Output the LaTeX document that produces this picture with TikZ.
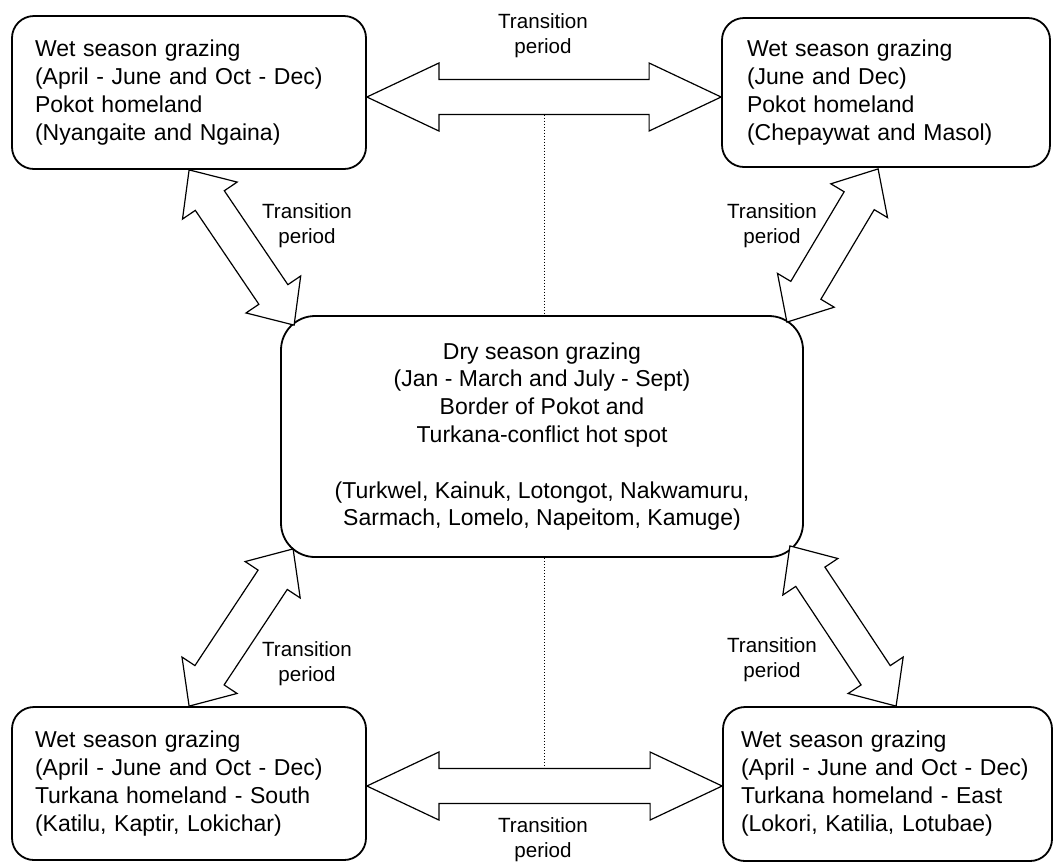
\documentclass[tikz,border=0pt]{standalone}
\usepackage{fontspec}
\setmainfont{Liberation Sans}
\usetikzlibrary{calc}
\tikzset{
  season/.style={
    draw,
    line width=0.9pt,
    rounded corners=11pt,
    align=left,
    inner xsep=11.5pt,
    inner ysep=0pt,
    font=\fontsize{11.5}{14}\selectfont
  },
  dryseason/.style={
    draw,
    line width=0.9pt,
    rounded corners=17pt,
    align=center,
    minimum width=261pt,
    minimum height=120.5pt,
    font=\fontsize{11.5}{13.9}\selectfont
  },
  transition/.style={
    align=center,
    font=\fontsize{10.3}{12.5}\selectfont
  },
  fatarrow/.style={
    draw,
    fill=white,
    line width=0.6pt,
    line join=miter
  },
  midline/.style={
    densely dotted,
    line width=0.5pt
  }
}
% #1,#2 tips, #3 head length, #4 head half width, #5 shaft half width
\newcommand\transarrow[5]{
  \coordinate (h1) at ($(#1)!#3!(#2)$);
  \coordinate (h2) at ($(#2)!#3!(#1)$);
  \draw[fatarrow] (#1) -- ($(h1)!#4!90:(#2)$) -- ($(h1)!#5!90:(#2)$)
    -- ($(h2)!#5!-90:(#1)$) -- ($(h2)!#4!-90:(#1)$) -- (#2)
    -- ($(h2)!#4!90:(#1)$) -- ($(h2)!#5!90:(#1)$)
    -- ($(h1)!#5!-90:(#2)$) -- ($(h1)!#4!-90:(#2)$) -- cycle;
}

\begin{document}
\begin{tikzpicture}[x=0.5pt,y=-0.5pt]
  \useasboundingbox (0,0) rectangle (1053,864);

  % grazing areas
  \node[season, text width=154pt, minimum height=76.5pt] (tl) at (189,92.5)
    {Wet season grazing\\(April - June and Oct - Dec)\\Pokot homeland\\(Nyangaite and Ngaina)};
  \node[season, inner xsep=12.5pt, text width=139pt, minimum height=74.5pt] (tr) at (886,92.5)
    {Wet season grazing\\(June and Dec)\\Pokot homeland\\(Chepaywat and Masol)};
  \node[season, text width=154pt, minimum height=76.5pt] (bl) at (189,783.5)
    {Wet season grazing\\(April - June and Oct - Dec)\\Turkana homeland - South\\(Katilu, Kaptir, Lokichar)};
  \node[season, inner xsep=9pt, text width=146.5pt, minimum height=77pt] (br) at (887.5,784)
    {Wet season grazing\\(April - June and Oct - Dec)\\Turkana homeland - East\\(Lokori, Katilia, Lotubae)};
  \node[dryseason] (dry) at (542,436.5)
    {Dry season grazing\\(Jan - March and July - Sept)\\Border of Pokot and\\Turkana-conflict hot spot\\[13.9pt]
     (Turkwel, Kainuk, Lotongot, Nakwamuru,\\Sarmach, Lomelo, Napeitom, Kamuge)};

  % arrow ends
  \coordinate (a1) at ($(tl.east)+(0,4.5)$);
  \coordinate (a2) at ($(tr.west)+(0,4.5)$);
  \coordinate (b1) at ($(bl.east)+(0,2.5)$);
  \coordinate (b2) at ($(br.west)+(0,2)$);
  \coordinate (c1) at ($(tl.south west)+(178,0)$);
  \coordinate (c2) at ($(dry.north west)+(14,10)$);
  \coordinate (d1) at ($(tr.south west)+(157,1)$);
  \coordinate (d2) at ($(dry.north east)+(-17,7)$);
  \coordinate (e1) at ($(bl.north west)+(178,0)$);
  \coordinate (e2) at ($(dry.south west)+(13,-9)$);
  \coordinate (f1) at ($(br.north west)+(174,0)$);
  \coordinate (f2) at ($(dry.south east)+(-14,-12)$);

  % dotted middle lines
  \coordinate (m1) at ($(a1)!.5!(a2)+(0,17.5)$);
  \coordinate (m2) at ($(b1)!.5!(b2)+(0,-17.5)$);
  \draw[midline] (m1) -- (m1 |- dry.north);
  \draw[midline] (m2 |- dry.south) -- (m2);

  \transarrow{a1}{a2}{36pt}{17pt}{8.75pt}
  \transarrow{b1}{b2}{36pt}{17pt}{8.75pt}
  \transarrow{c1}{c2}{18.5pt}{16.5pt}{8.75pt}
  \transarrow{d1}{d2}{18.5pt}{16.5pt}{8.75pt}
  \transarrow{e1}{e2}{18.5pt}{16.5pt}{8.75pt}
  \transarrow{f1}{f2}{18.5pt}{16.5pt}{8.75pt}

  \node[transition] (ttop) at (543,35.5) {Transition\\period};
  \node[transition] (tbot) at (543,840) {Transition\\period};
  \node[transition] (ttl) at (307,226) {Transition\\period};
  \node[transition] (ttr) at (772,226) {Transition\\period};
  \node[transition] (tbl) at (307,664) {Transition\\period};
  \node[transition] (tbr) at (772,660) {Transition\\period};
\end{tikzpicture}
\end{document}
